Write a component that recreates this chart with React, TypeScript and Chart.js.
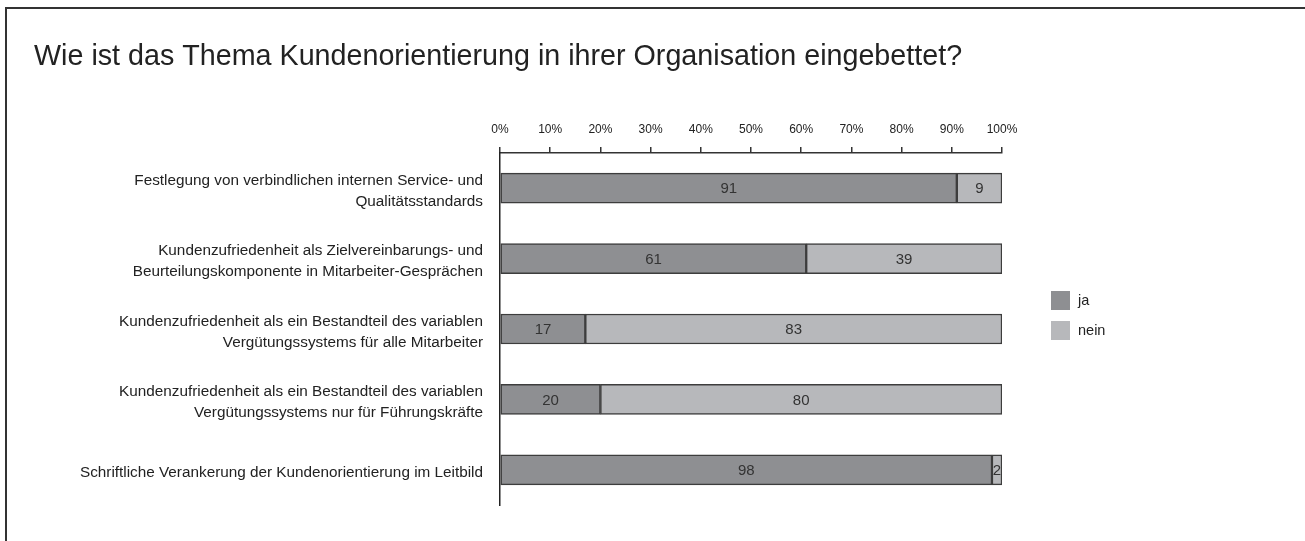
import React, { useEffect, useRef } from "react";
import { Chart, registerables } from "chart.js";

Chart.register(...registerables);

const titleText = "Wie ist das Thema Kundenorientierung in ihrer Organisation eingebettet?";
const categories: string[][] = [
  ["Festlegung von verbindlichen internen Service- und", "Qualitätsstandards"],
  ["Kundenzufriedenheit als Zielvereinbarungs- und", "Beurteilungskomponente in Mitarbeiter-Gesprächen"],
  ["Kundenzufriedenheit als ein Bestandteil des variablen", "Vergütungssystems für alle Mitarbeiter"],
  ["Kundenzufriedenheit als ein Bestandteil des variablen", "Vergütungssystems nur für Führungskräfte"],
  ["Schriftliche Verankerung der Kundenorientierung im Leitbild"],
];
const jaValues = [91, 61, 17, 20, 98];
const neinValues = [9, 39, 83, 80, 2];
const seriesNames = ["ja", "nein"];
const seriesColors = ["#8e8f92", "#b7b8bb"];

const FONT = "'Liberation Sans', Arial, sans-serif";
const TITLE_SIZE = 28.7;
const TITLE_PAD_TOP = 57 - (TITLE_SIZE * 1.2) / 2;
const TITLE_PAD_BOTTOM = 10;

const valueLabels = {
  id: "valueLabels",
  afterDatasetsDraw(chart: any) {
    const ctx = chart.ctx;
    ctx.save();
    ctx.font = `15px ${FONT}`;
    ctx.fillStyle = "#333";
    ctx.textAlign = "center";
    ctx.textBaseline = "middle";
    chart.data.datasets.forEach((ds: any, i: number) => {
      const meta = chart.getDatasetMeta(i);
      meta.data.forEach((el: any, j: number) => {
        const p = el.getCenterPoint();
        ctx.fillText(String(ds.data[j]), p.x, p.y + 1);
      });
    });
    ctx.restore();
  },
};

const customLegend = {
  id: "customLegend",
  afterDraw(chart: any) {
    const ctx = chart.ctx;
    const x = chart.chartArea.right + 49;
    const y0 = 291;
    ctx.save();
    ctx.font = `14.5px ${FONT}`;
    ctx.textBaseline = "middle";
    ctx.textAlign = "left";
    chart.data.datasets.forEach((ds: any, i: number) => {
      const y = y0 + i * 30;
      ctx.fillStyle = ds.backgroundColor;
      ctx.fillRect(x, y, 19, 19);
      ctx.fillStyle = "#222";
      ctx.fillText(ds.label, x + 27, y + 10);
    });
    ctx.restore();
  },
};

export default function App() {
  const ref = useRef<HTMLCanvasElement>(null);
  useEffect(() => {
    document.body.style.margin = "0";
    document.body.style.overflow = "hidden";
    const chart = new Chart(ref.current!, {
      type: "bar",
      data: {
        labels: categories,
        datasets: [
          {
            label: seriesNames[0],
            data: jaValues,
            backgroundColor: seriesColors[0],
            borderColor: "#3d3d3d",
            borderWidth: 1.5,
            borderSkipped: false,
            barThickness: 30,
          },
          {
            label: seriesNames[1],
            data: neinValues,
            backgroundColor: seriesColors[1],
            borderColor: "#3d3d3d",
            borderWidth: 1.5,
            borderSkipped: false,
            barThickness: 30,
          },
        ],
      },
      plugins: [valueLabels, customLegend],
      options: {
        indexAxis: "y",
        animation: false,
        responsive: false,
        maintainAspectRatio: false,
        layout: { padding: { left: 34, right: 303, top: 0, bottom: 36 } },
        plugins: {
          legend: { display: false },
          tooltip: { enabled: false },
          title: {
            display: true,
            text: titleText,
            align: "start",
            color: "#222",
            font: { family: FONT, size: TITLE_SIZE, weight: "normal" },
            padding: { top: TITLE_PAD_TOP, bottom: TITLE_PAD_BOTTOM },
          },
        },
        scales: {
          x: {
            position: "top",
            stacked: true,
            min: 0,
            max: 100,
            ticks: {
              stepSize: 10,
              callback: (v: any) => v + "%",
              color: "#222",
              font: { family: FONT, size: 12 },
              padding: 10,
              maxRotation: 0,
            },
            grid: {
              display: true,
              drawOnChartArea: false,
              drawTicks: true,
              tickLength: 6,
              color: "#333",
              lineWidth: 1.5,
            },
            border: { display: true, color: "#333", width: 1.5 },
            afterFit: (s: any) => {
              s.height = 153 - TITLE_PAD_TOP - TITLE_SIZE * 1.2 - TITLE_PAD_BOTTOM;
            },
          },
          y: {
            stacked: true,
            ticks: {
              color: "#222",
              font: { family: FONT, size: 15.3, lineHeight: 1.38 },
              padding: 17,
              labelOffset: 3,
            },
            grid: { display: true, drawOnChartArea: false, drawTicks: false },
            border: { display: true, color: "#222", width: 1.5 },
            afterFit: (s: any) => {
              s.width = 500 - 34;
              s.paddingTop = 0;
              s.paddingBottom = 0;
            },
          },
        },
      },
    });
    return () => chart.destroy();
  }, []);
  return (
    <div style={{ position: "fixed", left: 0, top: 0, width: 1305, height: 541, background: "#fff", overflow: "hidden" }}>
      <canvas ref={ref} width={1305} height={541} style={{ position: "absolute", left: 0, top: 0 }} />
      <div
        style={{
          position: "absolute",
          left: 5,
          top: 7,
          width: 1400,
          height: 700,
          border: "2px solid #333",
          pointerEvents: "none",
        }}
      />
    </div>
  );
}
